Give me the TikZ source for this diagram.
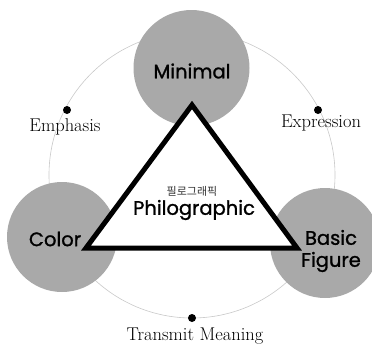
\documentclass[tikz,border=0pt]{standalone}
\usepackage{fontspec}
\newfontfamily\geofont{Poppins}[FakeBold=1.2]
\newfontfamily\kofont{Noto Sans CJK KR}
\definecolor{discgray}{HTML}{A9A9A9}
\definecolor{ringgray}{HTML}{C8C8C8}
\tikzset{
  keyword/.style={font=\geofont\fontsize{19.5}{22}\selectfont,align=center,inner sep=1pt},
  point/.style={circle,fill=black,inner sep=0pt,minimum size=8pt},
  remark/.style={font=\fontsize{18.5}{20}\selectfont,inner sep=1pt}
}
\begin{document}
\begin{tikzpicture}[x=1pt,y=-1pt]
  \useasboundingbox (0,0) rectangle (372,346);
  \clip (0,0) rectangle (372,346);
  % outer ring with the three connecting ideas
  \draw[ringgray,line width=0.6pt] (192,175) circle[radius=143];
  \node[point] (emph) at (67,110) {};
  \node[point] (expr) at (318,110) {};
  \node[point] (trans) at (192,318) {};
  \node[remark] (emphtext) at (65,127) {Emphasis};
  \node[remark] (exprtext) at (321,123) {Expression};
  \node[remark] (transtext) at (195,336) {Transmit Meaning};
  % the three discs
  \fill[discgray] (191.5,68) circle[radius=58];
  \fill[discgray] (62,237) circle[radius=55];
  \fill[discgray] (325,243) circle[radius=55];
  \coordinate (top) at (192,105);
  \coordinate (left) at (86,248);
  \coordinate (right) at (297,248);
  \filldraw[fill=white,draw=black,line width=5pt,miter limit=10] (top) -- (left) -- (right) -- cycle;
  \node[keyword] (minimal) at (192,71) {Minimal};
  \node[keyword] (color) at (55,239) {Color};
  \node[keyword] (basic) at (331,251) {Basic\\Figure};
  \node[font=\kofont\fontsize{11}{13}\selectfont,text=black!80] (korean) at (192,191) {필로그래픽};
  \node[keyword] (philo) at (194,210) {Philographic};
\end{tikzpicture}
\end{document}
